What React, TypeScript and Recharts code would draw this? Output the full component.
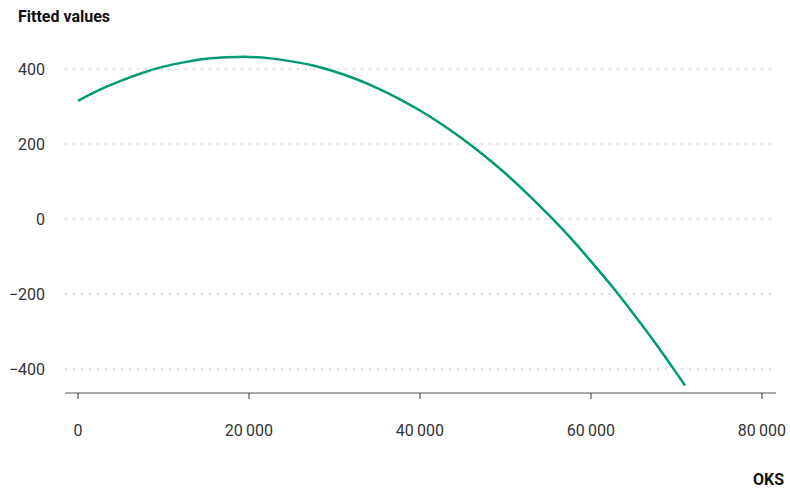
import { LineChart, Line, XAxis, YAxis, CartesianGrid } from "recharts";

// OKS values and the fitted values
const oks = [
  0, 2500, 5000, 7500, 10000, 12500, 15000, 17500, 20000, 22500, 25000, 27500,
  30000, 32500, 35000, 37500, 40000, 42500, 45000, 47500, 50000, 52500, 55000,
  57500, 60000, 62500, 65000, 67500, 70000, 71000,
];
const fitted = [
  315, 344, 368, 389, 406, 418, 427, 431, 432, 428, 420, 409, 393, 373, 349,
  321, 289, 253, 213, 169, 121, 68, 12, -48, -113, -181, -254, -330, -411, -444,
];
const xTicks = [0, 20000, 40000, 60000, 80000];
const yTicks = [-400, -200, 0, 200, 400];

const data = oks.map((x, i) => ({ oks: x, fit: fitted[i] }));

const fmtX = (v: number) => String(v).replace(/\B(?=(\d{3})+(?!\d))/g, "\u2009");
const fmtY = (v: number) => (v < 0 ? "\u2212" + Math.abs(v) : String(v));

const font = "Roboto, 'Liberation Sans', sans-serif";

export default function App() {
  return (
    <div
      style={{
        position: "absolute",
        left: 0,
        top: 0,
        width: 790,
        height: 492,
        background: "#fff",
        fontFamily: font,
      }}
    >
      <div
        style={{
          position: "absolute",
          left: 18,
          top: 7,
          fontSize: 16,
          fontWeight: 700,
          color: "#111",
        }}
      >
        Fitted values
      </div>
      <div
        style={{
          position: "absolute",
          right: 6,
          top: 472,
          fontSize: 16,
          lineHeight: "16px",
          fontWeight: 700,
          color: "#111",
        }}
      >
        OKS
      </div>
      <LineChart
        width={790}
        height={492}
        data={data}
        margin={{ top: 40, right: 14, bottom: 39, left: 0 }}
      >
        <CartesianGrid
          vertical={false}
          horizontalValues={yTicks}
          stroke="#c4c4c4"
          strokeWidth={1.5}
          strokeDasharray="1.5 6.5"
        />
        <XAxis
          dataKey="oks"
          type="number"
          domain={[-1520, 81640]}
          ticks={xTicks}
          tickFormatter={fmtX}
          axisLine={{ stroke: "#555" }}
          tickLine={{ stroke: "#333" }}
          tickSize={6}
          tickMargin={26}
          height={60}
          tick={{ fill: "#333", fontSize: 16, fontFamily: font }}
        />
        <YAxis
          type="number"
          domain={[-464, 477]}
          ticks={yTicks}
          tickFormatter={fmtY}
          axisLine={false}
          tickLine={false}
          tickSize={0}
          tickMargin={20}
          width={65}
          tick={{ fill: "#333", fontSize: 16, fontFamily: font }}
        />
        <Line
          dataKey="fit"
          type="natural"
          stroke="#009a74"
          strokeWidth={2.5}
          dot={false}
          isAnimationActive={false}
        />
      </LineChart>
    </div>
  );
}
